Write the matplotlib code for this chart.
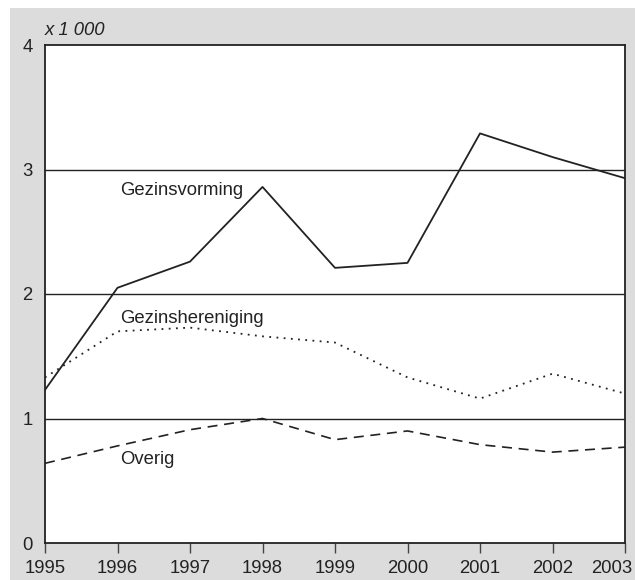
import matplotlib.pyplot as plt
import matplotlib.transforms as mtransforms
from matplotlib.patches import Rectangle

years = [1995, 1996, 1997, 1998, 1999, 2000, 2001, 2002, 2003]
gezinsvorming = [1.23, 2.05, 2.26, 2.86, 2.21, 2.25, 3.29, 3.10, 2.93]
gezinshereniging = [1.33, 1.70, 1.73, 1.66, 1.61, 1.33, 1.16, 1.36, 1.20]
overig = [0.64, 0.78, 0.91, 1.00, 0.83, 0.90, 0.79, 0.73, 0.77]

plt.rcParams['font.family'] = ['Liberation Sans', 'DejaVu Sans']

fig = plt.figure(figsize=(6.35, 5.8), dpi=100, facecolor='white')
# grey panel behind the plot
fig.patches.append(Rectangle((10 / 635, 0), 1, 1 - 8 / 580, transform=fig.transFigure,
                             facecolor='#dcdcdc', edgecolor='none', zorder=-1))
ax = fig.add_axes([45 / 635, 37 / 580, 580 / 635, 498 / 580])
ax.set_facecolor('white')

for y in [1, 2, 3]:
    ax.axhline(y, color='#222222', lw=1.0, zorder=1)

ax.plot(years, gezinsvorming, color='#222222', lw=1.3, zorder=3)
ax.plot(years, gezinshereniging, color='#222222', lw=1.3, ls=(0, (1, 3)), zorder=3)
ax.plot(years, overig, color='#222222', lw=1.2, ls=(0, (6, 4)), zorder=3)

ax.text(1996.03, 2.835, 'Gezinsvorming', fontsize=13.3, color='#222222', va='center')
ax.text(1996.03, 1.807, 'Gezinshereniging', fontsize=13.3, color='#222222', va='center')
ax.text(1996.03, 0.667, 'Overig', fontsize=13.3, color='#222222', va='center')
ax.text(0.0, 1.012, 'x 1 000', transform=ax.transAxes, fontsize=13.3,
        style='italic', color='#222222', va='bottom')

ax.set_xlim(1995, 2003)
ax.set_ylim(0, 4)
ax.set_xticks(years)
ax.set_yticks([0, 1, 2, 3, 4])
ax.tick_params(axis='x', direction='out', length=7, width=1, color='#444444',
               labelsize=13.3, labelcolor='#222222', pad=5)
ax.tick_params(axis='y', length=0, labelsize=13.3, labelcolor='#222222', pad=9)
for s in ax.spines.values():
    s.set_color('#222222')
    s.set_linewidth(1.3)

# last year label sits a little to the left so it stays inside the figure
last = ax.get_xticklabels()[-1]
last.set_transform(last.get_transform() +
                   mtransforms.ScaledTranslation(-13 / 100, 0, fig.dpi_scale_trans))

plt.savefig('out.png', dpi=100, facecolor=fig.get_facecolor())
plt.close('all')
